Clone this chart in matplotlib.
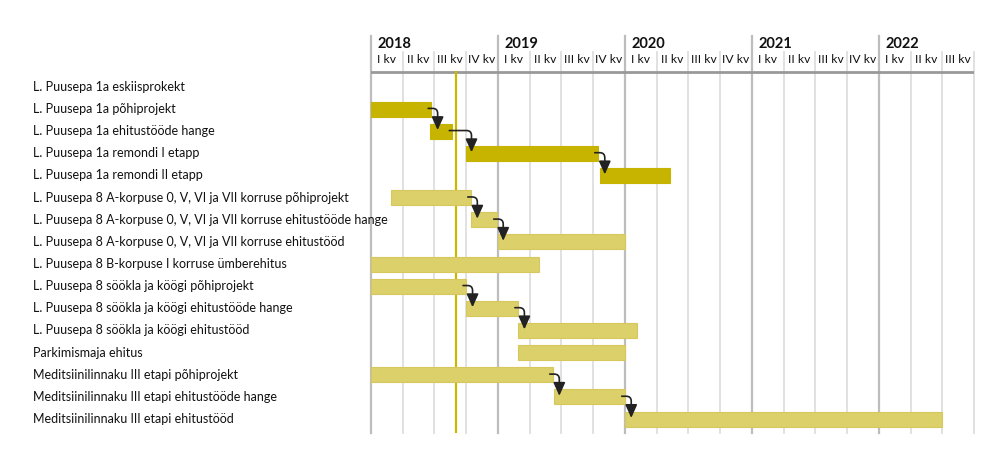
import matplotlib
matplotlib.use("Agg")
import matplotlib.pyplot as plt
import matplotlib.transforms as mtransforms
from matplotlib.patches import FancyArrowPatch
import numpy as np

plt.rcParams['font.family'] = ['Lato', 'DejaVu Sans']

# tööde nimed (ülevalt alla)
tasks = [
    'L. Puusepa 1a eskiisprokekt',
    'L. Puusepa 1a põhiprojekt',
    'L. Puusepa 1a ehitustööde hange',
    'L. Puusepa 1a remondi I etapp',
    'L. Puusepa 1a remondi II etapp',
    'L. Puusepa 8 A-korpuse 0, V, VI ja VII korruse põhiprojekt',
    'L. Puusepa 8 A-korpuse 0, V, VI ja VII korruse ehitustööde hange',
    'L. Puusepa 8 A-korpuse 0, V, VI ja VII korruse ehitustööd',
    'L. Puusepa 8 B-korpuse I korruse ümberehitus',
    'L. Puusepa 8 söökla ja köögi põhiprojekt',
    'L. Puusepa 8 söökla ja köögi ehitustööde hange',
    'L. Puusepa 8 söökla ja köögi ehitustööd',
    'Parkimismaja ehitus',
    'Meditsiinilinnaku III etapi põhiprojekt',
    'Meditsiinilinnaku III etapi ehitustööde hange',
    'Meditsiinilinnaku III etapi ehitustööd',
]
# algus ja lõpp kuudes alates 2018 jaanuarist
start = [np.nan, 0, 5.6, 9.0, 21.6, 1.9, 9.45, 12.0, 0, 0, 9.0, 13.9, 13.9, 0, 17.3, 24.0]
end = [np.nan, 5.7, 7.7, 21.45, 28.3, 9.45, 11.9, 24.0, 15.9, 9.0, 13.9, 25.1, 24.0, 17.2, 24.0, 54.0]
dark = [False, True, True, True, True] + [False] * 11
links = [(1, 2), (2, 3), (3, 4), (5, 6), (6, 7), (9, 10), (10, 11), (13, 14), (14, 15)]
years = [2018, 2019, 2020, 2021, 2022]
quarters = ['I kv', 'II kv', 'III kv', 'IV kv']
n_quarters = 19
today = 8.06

fig = plt.figure(figsize=(10, 4.7), dpi=100)
ax = fig.add_axes([0.371, 1 - 433 / 470, 0.603, (433 - 36) / 470])
ax.set_xlim(0, n_quarters * 3)
ax.set_ylim(15.63, -2.3)
ax.axis('off')

y_year, y_q, y_line, y_qtop = -1.96, -1.22, -0.68, -1.58

# ruudustik
for q in range(n_quarters + 1):
    x = q * 3
    if q % 4 == 0:
        ax.plot([x, x], [-2.3, 15.63], color='#bdbdbd', lw=1.6, zorder=1, clip_on=False)
    else:
        ax.plot([x, x], [y_qtop, 15.63], color='#dedede', lw=1.3, zorder=1, clip_on=False)
ax.plot([0, n_quarters * 3], [y_line, y_line], color='#999999', lw=2, zorder=2)

for i, yr in enumerate(years):
    ax.text(i * 12 + 0.65, y_year, str(yr), fontsize=10.5, fontweight='bold',
            ha='left', va='center', color='#111111')
for q in range(n_quarters):
    ax.text(q * 3 + 1.5, y_q, quarters[q % 4], fontsize=8.7, ha='center', va='center',
            color='#111111')

# täna
ax.plot([today, today], [y_line, 15.63], color='#c9b800', lw=1.6, zorder=2)

# tulbad
y = np.arange(len(tasks))
width = np.array(end) - np.array(start)
colors = ['#c6b400' if d else '#dcd06a' for d in dark]
edges = ['#c6b400' if d else '#d6c85c' for d in dark]
ax.barh(y, width, left=start, height=0.68, color=colors, edgecolor=edges, lw=0.8, zorder=3)

# seosed
for a, b in links:
    xa = end[a] - 0.3
    xb = max(end[a] + 0.6, start[b] + 0.5)
    arr = FancyArrowPatch((xa, y[a] - 0.03), (xb, y[b] - 0.05),
                          connectionstyle='angle,angleA=0,angleB=90,rad=5',
                          arrowstyle='-|>,head_length=0.8,head_width=0.36',
                          mutation_scale=10, shrinkA=0, shrinkB=0,
                          color='#222222', lw=1.2, zorder=4)
    ax.add_patch(arr)

# sildid
trans = mtransforms.blended_transform_factory(fig.transFigure, ax.transData)
for i, t in enumerate(tasks):
    ax.text(0.033, i, t, transform=trans, fontsize=9.0, ha='left', va='center',
            color='#111111')

fig.savefig('out.png', dpi=100, facecolor='white')
